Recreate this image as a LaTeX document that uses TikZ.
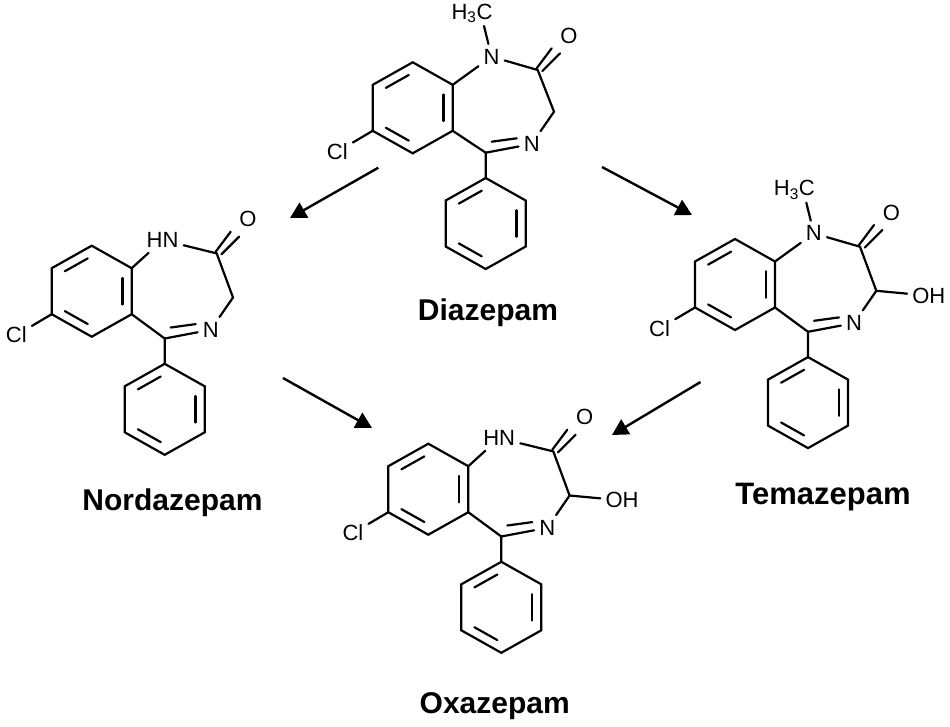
\documentclass[tikz,border=0pt]{standalone}
\usepackage{fontspec}
\setmainfont{Liberation Sans}
\usetikzlibrary{calc, positioning, arrows.meta}

\begin{document}
\begin{tikzpicture}[
    % GLOBAL CFG
    x=1pt, y=-1pt,
    font=\fontsize{22}{24}\selectfont,
    >={Triangle[length=16pt,width=17pt]},
    % Styles
    bond/.style={% For the skeleton lines
        line width=2.2pt,
        line cap=round,
        },
    atom/.style={% For the atom letters
        rectangle,
        inner sep=5pt,
        },
    drugname/.style={% For the names under the molecules
        font=\fontsize{30}{32}\selectfont\bfseries,
        anchor=base,
        },
    reaction/.style={% For the arrows between molecules
        ->,
        line width=2.4pt,
        },
    % Six membered ring, corners named v1..v6 clockwise from the top
    pics/hexring/.style={code={
        \coordinate (ctr) at (0,0);
        \foreach \i/\vx/\vy in {1/0/-45.5, 2/40/-23, 3/40/23, 4/0/45.5, 5/-40/23, 6/-40/-23}
            \coordinate (v\i) at (\vx,\vy);
        \draw [bond] (v1) -- (v2) -- (v3) -- (v4) -- (v5) -- (v6) -- cycle;
        \foreach \a/\b in {6/1, 2/3, 4/5}
            \draw [bond, shorten >=4.5pt, shorten <=4.5pt] ($(v\a)!.23!(ctr)$) -- ($(v\b)!.23!(ctr)$);
    }},
    % Common skeleton: #1 is the text on N1, #2 moves the lower part down
    pics/core/.style 2 args={code={
        \pic (ben) at (412.7,107.8) {hexring};
        \pic (phe) at (485.7,{223.5+#2}) {hexring};
        \node [atom, anchor=east] (N1) at (504.7,56.7) {#1};
        \node [atom] (N4) at (531.7,{144+#2}) {N};
        \node [atom] (O) at (569,36) {O};
        \node [atom] (Cl) at (337.3,151.7) {Cl};
        \coordinate (C2) at (537.7,70);
        \coordinate (C3) at (554,{111.7+#2});
        \coordinate (C5) at (485.7,{152.7+#2});
        \draw [bond] (benv2) -- (N1);
        \draw [bond] (N1) -- (C2) -- (C3) -- (N4);
        \draw [bond] (benv3) -- (C5) -- (phev1);
        \draw [bond] (C5) -- (N4);
        \draw [bond] ($(C5)+(6,-11)$) -- ($(N4)+(-15,-5.7)$);
        \draw [bond] (benv5) -- (Cl);
        \draw [bond] ($(C2)+(-1,-1.7)$) -- ($(O)+(-17.3,12.3)$);
        \draw [bond] ($(C2)+(4.6,1)$) -- ($(O)+(-9,17.3)$);
    }},
    pics/nmethyl/.style={code={% Methyl group on N1
        \node [atom, anchor=base] (Me) at (472,19) {H\textsubscript{3}C};
        \draw [bond] ([xshift=12pt,yshift=2pt]Me.south) -- (N1);
    }},
    pics/hydroxy/.style={code={% Hydroxyl group on C3
        \node [atom] (OH) at (606.5,119) {OH};
        \draw [bond] (C3) -- (OH);
    }},
    ]

\useasboundingbox (0,0) rectangle (950,726);

    % Draw the molecules named dia, nor, tem, oxa
    \pic (dia) at (0,0) {core={N}{0}};
    \pic (dia) at (0,0) {nmethyl};

    \pic (nor) at (-321,183.4) {core={HN}{2.4}};

    \pic (tem) at (322.3,176.7) {core={N}{2.4}};
    \pic (tem) at (322.3,176.7) {nmethyl};
    \pic (tem) at (322.3,176.7) {hydroxy};

    \pic (oxa) at (15.6,381.4) {core={HN}{2.4}};
    \pic (oxa) at (15.6,381.4) {hydroxy};

    % Draw the names
    \node [drugname] (dianame) at (488,320) {Diazepam};
    \node [drugname] (norname) at (172.5,510) {Nordazepam};
    \node [drugname, font=\fontsize{31}{33}\selectfont\bfseries] (temname) at (823,504) {Temazepam};
    \node [drugname] (oxaname) at (494.7,713) {Oxazepam};

    % Free ends of the arrows
    \coordinate (diaout1) at (378.3,167.7);
    \coordinate (norin) at (290,218);
    \coordinate (diaout2) at (602,167);
    \coordinate (temin) at (692,215);
    \coordinate (norout) at (283,378);
    \coordinate (oxain1) at (372,428);
    \coordinate (temout) at (700.5,382);
    \coordinate (oxain2) at (612,435);

    % Drawing arrows
    \draw [reaction] (diaout1) -- (norin);
    \draw [reaction] (diaout2) -- (temin);
    \draw [reaction] (norout) -- (oxain1);
    \draw [reaction] (temout) -- (oxain2);

\end{tikzpicture}
\end{document}
